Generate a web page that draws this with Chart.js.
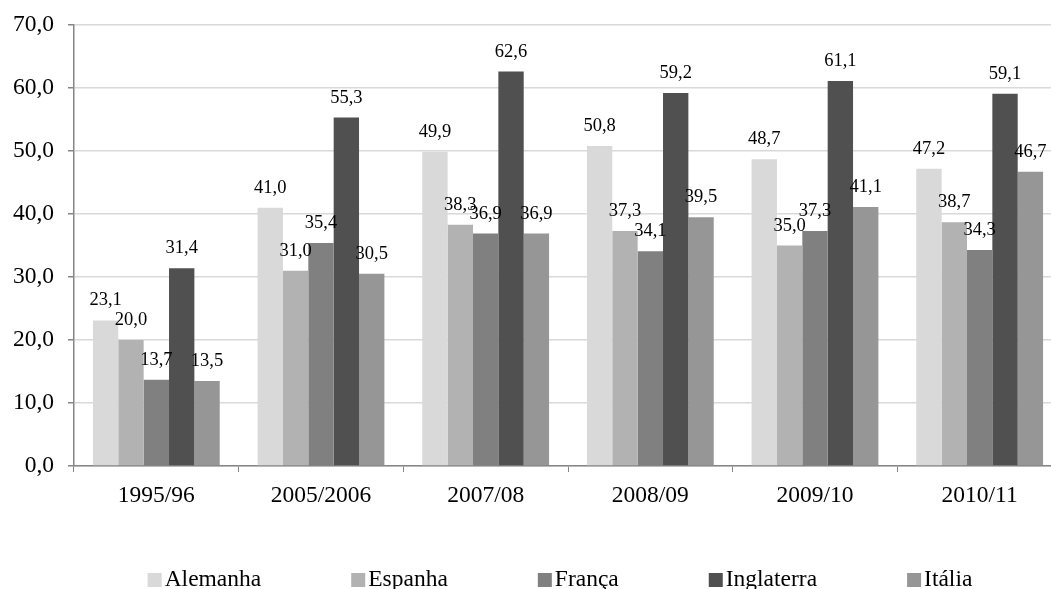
<!DOCTYPE html>
<html>
<head>
<meta charset="utf-8">
<script src="https://cdn.jsdelivr.net/npm/chart.js@4/dist/chart.umd.min.js"></script>
<style>
  html, body { margin: 0; padding: 0; background: #fff; overflow: hidden; }
  #wrap { width: 1051px; height: 589px; overflow: hidden; }
</style>
</head>
<body>
<div id="wrap"><canvas id="c" width="1066" height="589"></canvas></div>
<script>
// Temporadas
const categories = ['1995/96', '2005/2006', '2007/08', '2008/09', '2009/10', '2010/11'];

// Valores por país
const alemanha   = [23.1, 41.0, 49.9, 50.8, 48.7, 47.2];
const espanha    = [20.0, 31.0, 38.3, 37.3, 35.0, 38.7];
const franca     = [13.7, 35.4, 36.9, 34.1, 37.3, 34.3];
const inglaterra = [31.4, 55.3, 62.6, 59.2, 61.1, 59.1];
const italia     = [13.5, 30.5, 36.9, 39.5, 41.1, 46.7];

const seriesNames = ['Alemanha', 'Espanha', 'França', 'Inglaterra', 'Itália'];
const yTicks = [0, 10, 20, 30, 40, 50, 60, 70];

const colors = ['#d9d9d9', '#b2b2b2', '#808080', '#505050', '#969696'];
const FONT = '"Liberation Serif", "Times New Roman", serif';
const fmt = v => v.toFixed(1).replace('.', ',');

const seriesValues = [alemanha, espanha, franca, inglaterra, italia];

// Rótulos de valor acima de cada barra
const valueLabels = {
  id: 'valueLabels',
  afterDatasetsDraw(chart) {
    const ctx = chart.ctx;
    ctx.save();
    ctx.font = '18.5px ' + FONT;
    ctx.fillStyle = '#000';
    ctx.textAlign = 'center';
    ctx.textBaseline = 'alphabetic';
    chart.data.datasets.forEach((ds, i) => {
      const meta = chart.getDatasetMeta(i);
      meta.data.forEach((bar, j) => {
        ctx.fillText(fmt(ds.data[j]), bar.x, bar.y - 15);
      });
    });
    ctx.restore();
  }
};

// Legenda horizontal na parte inferior
const bottomLegend = {
  id: 'bottomLegend',
  afterDraw(chart) {
    const ctx = chart.ctx;
    ctx.save();
    ctx.font = '23.5px ' + FONT;
    const box = 14, gapText = 3, gapItem = 90;
    const items = chart.data.datasets.map(ds => ({
      label: ds.label, color: ds.backgroundColor,
      w: box + gapText + ctx.measureText(ds.label).width
    }));
    const total = items.reduce((s, it) => s + it.w, 0) + gapItem * (items.length - 1);
    let x = 560 - total / 2;
    const baseline = 586;
    ctx.textBaseline = 'alphabetic';
    ctx.textAlign = 'left';
    items.forEach(it => {
      ctx.fillStyle = it.color;
      ctx.fillRect(x, 573, box, box);
      ctx.fillStyle = '#000';
      ctx.fillText(it.label, x + box + gapText, baseline);
      x += it.w + gapItem;
    });
    ctx.restore();
  }
};

new Chart(document.getElementById('c'), {
  type: 'bar',
  data: {
    labels: categories,
    datasets: seriesNames.map((name, i) => ({
      label: name,
      data: seriesValues[i],
      backgroundColor: colors[i],
      borderWidth: 0,
      categoryPercentage: 0.77,
      barPercentage: 1.0
    }))
  },
  options: {
    responsive: false,
    animation: false,
    devicePixelRatio: 1,
    layout: { padding: { top: 25, right: 4, left: 0, bottom: 0 } },
    plugins: {
      legend: { display: false },
      tooltip: { enabled: false }
    },
    scales: {
      x: {
        offset: true,
        grid: {
          offset: true,
          drawOnChartArea: false,
          drawTicks: true,
          tickLength: 6,
          tickColor: '#868686',
          color: '#868686'
        },
        border: { color: '#868686', width: 1.5 },
        ticks: {
          color: '#000',
          font: { family: FONT, size: 23.5 },
          padding: 10,
          maxRotation: 0
        },
        afterFit(scale) { scale.height = 123; }
      },
      y: {
        min: 0,
        max: 70,
        afterBuildTicks(scale) { scale.ticks = yTicks.map(v => ({ value: v })); },
        grid: {
          color: '#d9d9d9',
          lineWidth: 1.5,
          drawTicks: true,
          tickLength: 6,
          tickColor: '#868686'
        },
        border: { color: '#868686', width: 1.5 },
        ticks: {
          color: '#000',
          font: { family: FONT, size: 23.5, lineHeight: 0.8 },
          padding: 14,
          callback: v => fmt(v)
        },
        afterFit(scale) { scale.width = 74; }
      }
    }
  },
  plugins: [valueLabels, bottomLegend]
});
</script>
</body>
</html>
